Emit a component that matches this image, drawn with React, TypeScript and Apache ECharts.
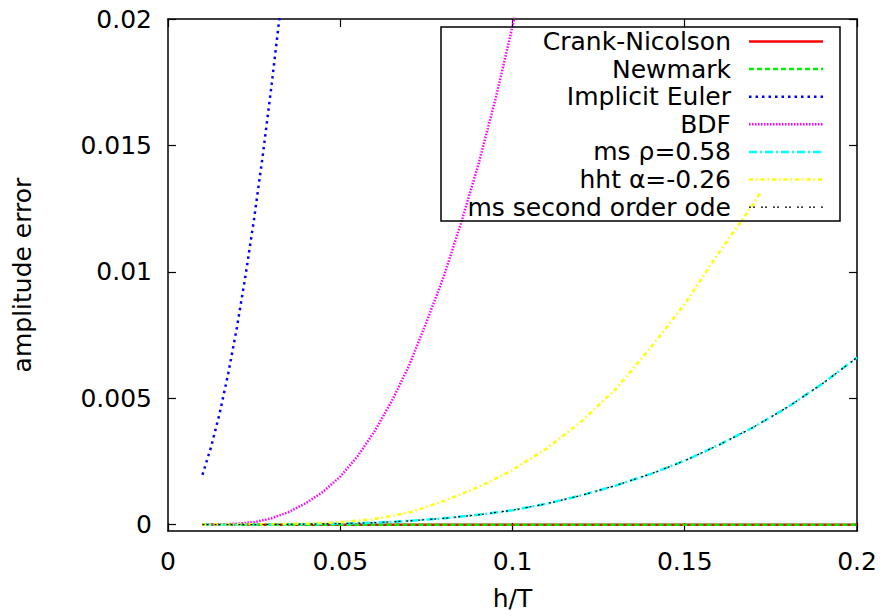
import { useEffect, useRef } from "react";
import * as echarts from "echarts";

const FONT = "DejaVu Sans";

// h/T sample points (shared grid)
const hGrid = [0.01, 0.02, 0.03, 0.04, 0.05, 0.06, 0.07, 0.08, 0.09, 0.1, 0.11, 0.12, 0.13, 0.14, 0.15, 0.16, 0.17, 0.18, 0.19, 0.2];
const crankNicolson = [0, 0, 0, 0, 0, 0, 0, 0, 0, 0, 0, 0, 0, 0, 0, 0, 0, 0, 0, 0];
const newmark = [0, 0, 0, 0, 0, 0, 0, 0, 0, 0, 0, 0, 0, 0, 0, 0, 0, 0, 0, 0];

const implicitEulerH = [0.01, 0.0125, 0.015, 0.0175, 0.02, 0.0225, 0.025, 0.0275, 0.03, 0.0325, 0.035];
const implicitEuler = [0.00197, 0.00307, 0.00441, 0.00599, 0.0078, 0.00985, 0.01211, 0.0146, 0.01731, 0.02022, 0.02334];

const bdfH = [0.01, 0.015, 0.02, 0.025, 0.03, 0.035, 0.04, 0.045, 0.05, 0.055, 0.06, 0.065, 0.07, 0.075, 0.08, 0.085, 0.09, 0.095, 0.1, 0.105];
const bdf = [0, 0.00001, 0.00004, 0.0001, 0.00025, 0.0005, 0.00085, 0.0013, 0.0019, 0.0027, 0.0037, 0.0049, 0.0063, 0.008, 0.0098, 0.0119, 0.0142, 0.0168, 0.0197, 0.0228];

const msRho = [0, 0, 0.00001, 0.00002, 0.00004, 0.00008, 0.00015, 0.00025, 0.00039, 0.00057, 0.00083, 0.00116, 0.00155, 0.002, 0.00253, 0.00316, 0.00386, 0.00466, 0.00558, 0.00661];

const hhtH = [0.01, 0.02, 0.03, 0.04, 0.05, 0.06, 0.07, 0.08, 0.09, 0.1, 0.11, 0.12, 0.13, 0.14, 0.15, 0.16, 0.17, 0.172];
const hht = [0, 0.00001, 0.00002, 0.00004, 0.0001, 0.00022, 0.00048, 0.00093, 0.00148, 0.00216, 0.00302, 0.00408, 0.00537, 0.00698, 0.00873, 0.01078, 0.0127, 0.01316];

const msOde = [0, 0, 0.00001, 0.00002, 0.00004, 0.00008, 0.00015, 0.00025, 0.00039, 0.00057, 0.00083, 0.00116, 0.00155, 0.002, 0.00253, 0.00316, 0.00386, 0.00466, 0.00558, 0.00661];

const xTicks = [0, 0.05, 0.1, 0.15, 0.2];
const yTicks = [0, 0.005, 0.01, 0.015, 0.02];
const yTickLabels = ["0", "0.005", "0.01", "0.015", "0.02"];

const seriesNames = ["Crank-Nicolson", "Newmark", "Implicit Euler", "BDF", "ms ρ=0.58", "hht α=-0.26", "ms second order ode"];

const styles = [
  { color: "#ff0000", width: 2.5, dash: "solid" as any },
  { color: "#00ee00", width: 2.5, dash: [5, 3] },
  { color: "#0000ff", width: 2.5, dash: [2.5, 4] },
  { color: "#ff00ff", width: 2.5, dash: [1.5, 1.5] },
  { color: "#00ffff", width: 2.5, dash: [8, 3, 2, 3] },
  { color: "#ffff00", width: 2.5, dash: [4, 3, 1.5, 3] },
  { color: "#000000", width: 1.2, dash: [2, 2, 2, 6] },
];

function pairs(xs: number[], ys: number[]) {
  return xs.map((x, i) => [x, ys[i]]);
}

export default function App() {
  const ref = useRef<HTMLDivElement>(null);
  useEffect(() => {
    if (!ref.current) return;
    const chart = echarts.init(ref.current, undefined, { renderer: "svg" });
    const datasets = [
      pairs(hGrid, crankNicolson),
      pairs(hGrid, newmark),
      pairs(implicitEulerH, implicitEuler),
      pairs(bdfH, bdf),
      pairs(hGrid, msRho),
      pairs(hhtH, hht),
      pairs(hGrid, msOde),
    ];
    const left = 168, right = 857, top = 19, bottom = 532;
    const axisLine = { show: true, onZero: false, lineStyle: { color: "#000", width: 1.5 } };
    const tick = { show: true, inside: true, length: 8, lineStyle: { color: "#000", width: 1.2 } };
    const labelFont = { color: "#000", fontSize: 25, fontFamily: FONT };

    const legendX1 = 749, legendX2 = 823, textRight = 731;
    const rowY0 = 41.5, rowStep = 27.6;
    const legendEls: any[] = [
      {
        type: "rect",
        shape: { x: 441, y: 27, width: 399, height: 194 },
        style: { fill: "none", stroke: "#000", lineWidth: 1.5 },
        z: 100,
      },
    ];
    seriesNames.forEach((name, i) => {
      const y = rowY0 + i * rowStep;
      legendEls.push({
        type: "text",
        x: textRight,
        y,
        z: 100,
        style: {
          text: name,
          fill: "#000",
          fontSize: 25,
          fontFamily: FONT,
          textAlign: "right",
          textVerticalAlign: "middle",
        },
      });
      const s = styles[i];
      legendEls.push({
        type: "line",
        z: 100,
        shape: { x1: legendX1, y1: y, x2: legendX2, y2: y },
        style: {
          stroke: s.color,
          lineWidth: s.width,
          lineDash: Array.isArray(s.dash) ? s.dash : null,
        },
      });
    });

    chart.setOption({
      animation: false,
      backgroundColor: "#fff",
      grid: { left, top, width: right - left, height: bottom - top, containLabel: false },
      xAxis: [
        {
          type: "value",
          min: 0,
          max: 0.2,
          interval: 0.05,
          position: "bottom",
          axisLine,
          axisTick: { ...tick, customValues: xTicks },
          axisLabel: { ...labelFont, margin: 18, customValues: xTicks },
          splitLine: { show: false },
          name: "h/T",
          nameLocation: "middle",
          nameGap: 55,
          nameTextStyle: { color: "#000", fontSize: 25, fontFamily: FONT },
        },
        {
          type: "value",
          min: 0,
          max: 0.2,
          interval: 0.05,
          position: "top",
          axisLine,
          axisTick: { ...tick, customValues: xTicks },
          axisLabel: { show: false },
          splitLine: { show: false },
        },
      ],
      yAxis: [
        {
          type: "value",
          min: -0.00025,
          max: 0.02,
          position: "left",
          axisLine,
          axisTick: { ...tick, customValues: yTicks },
          axisLabel: {
            ...labelFont,
            margin: 16,
            customValues: yTicks,
            formatter: (v: number) => {
              const idx = yTicks.findIndex((t) => Math.abs(t - v) < 1e-9);
              return idx >= 0 ? yTickLabels[idx] : "";
            },
          },
          splitLine: { show: false },
          name: "amplitude error",
          nameLocation: "middle",
          nameRotate: 90,
          nameGap: 133,
          nameTextStyle: { color: "#000", fontSize: 25, fontFamily: FONT },
        },
        {
          type: "value",
          min: -0.00025,
          max: 0.02,
          position: "right",
          axisLine,
          axisTick: { ...tick, customValues: yTicks },
          axisLabel: { show: false },
          splitLine: { show: false },
        },
      ],
      series: datasets.map((d, i) => ({
        type: "line",
        name: seriesNames[i],
        data: d,
        xAxisIndex: 0,
        yAxisIndex: 0,
        showSymbol: false,
        symbol: "none",
        clip: true,
        z: 2 + i,
        lineStyle: {
          color: styles[i].color,
          width: styles[i].width,
          type: styles[i].dash,
          cap: "butt",
        },
      })),
      graphic: { elements: legendEls },
    });
    return () => chart.dispose();
  }, []);
  return (
    <div
      ref={ref}
      style={{ position: "absolute", left: 0, top: 0, width: 883, height: 616, background: "#fff" }}
    />
  );
}
